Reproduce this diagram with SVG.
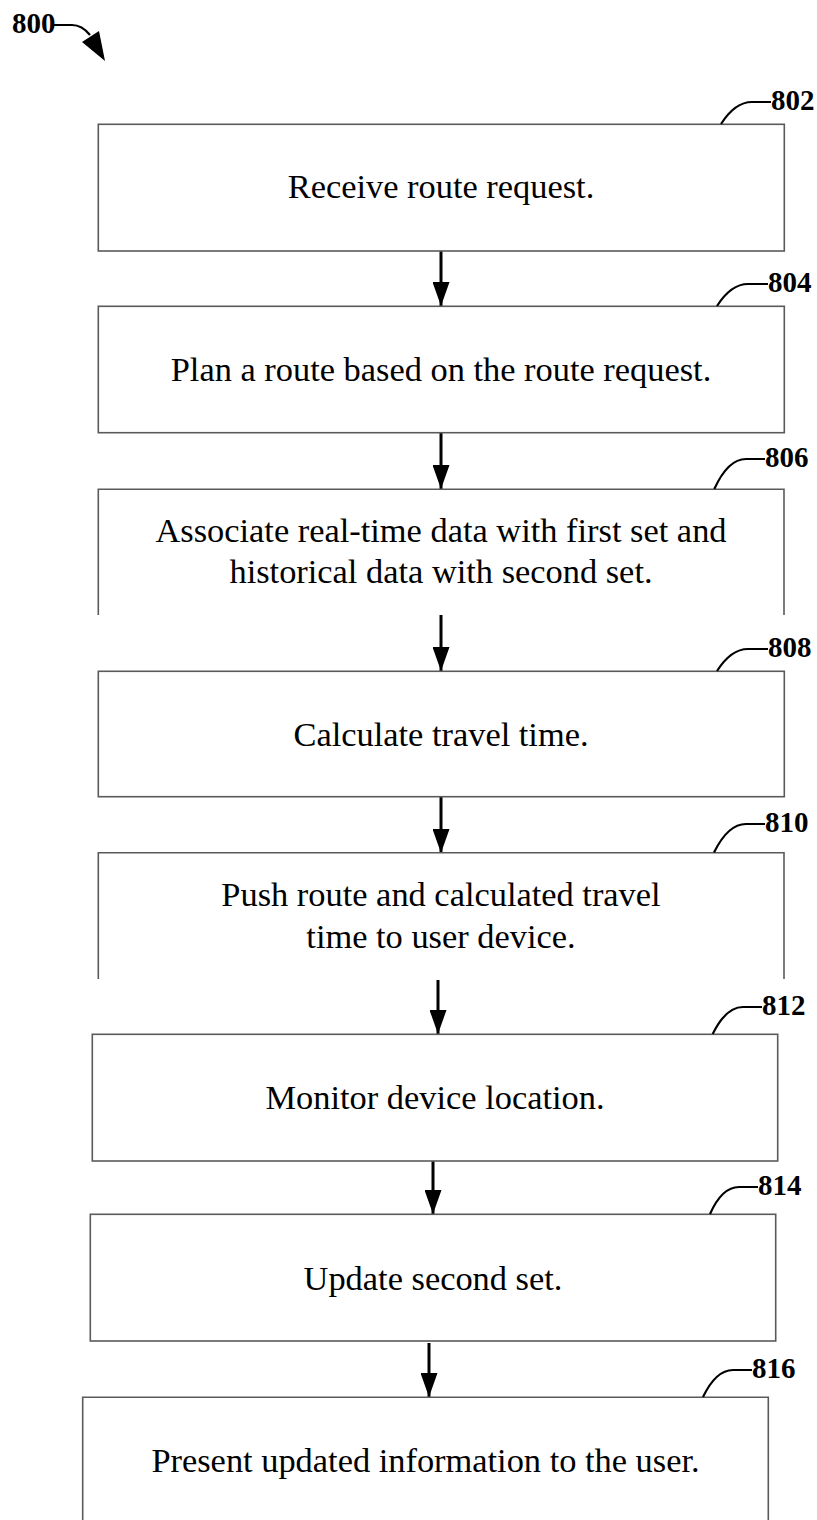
<svg xmlns="http://www.w3.org/2000/svg" width="817" height="1520" viewBox="0 0 817 1520">
<defs>
<style>
.box{fill:none;stroke:#5a5a5a;stroke-width:1.6}
.txt{font-family:"Liberation Serif","Times New Roman",serif;font-size:34.4px;fill:#000;text-anchor:middle}
.lbl{font-family:"Liberation Serif","Times New Roman",serif;font-size:29px;font-weight:bold;fill:#000}
.lead{fill:none;stroke:#000;stroke-width:2.2}
.conn{stroke:#000;stroke-width:3}
</style>
<marker id="ah" viewBox="0 0 24 17" refX="24" refY="8.5" markerWidth="24" markerHeight="17" markerUnits="userSpaceOnUse" orient="auto">
<path d="M0,0 L24,8.5 L0,17 Z" fill="#000"/>
</marker>
</defs>
<rect width="817" height="1520" fill="#fff"/>

<g id="fig-label">
<text class="lbl" x="12" y="33">800</text>
<path class="lead" d="M53,25 L72,25 Q82,25 90,35"/>
<path d="M82,42 L99,31 L105,61 Z" fill="#000"/>
</g>

<g id="connectors">
<line class="conn" x1="441" y1="251" x2="441" y2="306" marker-end="url(#ah)"/>
<line class="conn" x1="441" y1="433" x2="441" y2="489" marker-end="url(#ah)"/>
<line class="conn" x1="441" y1="615" x2="441" y2="671" marker-end="url(#ah)"/>
<line class="conn" x1="441" y1="797" x2="441" y2="853" marker-end="url(#ah)"/>
<line class="conn" x1="438" y1="980" x2="438" y2="1034" marker-end="url(#ah)"/>
<line class="conn" x1="433" y1="1161" x2="433" y2="1214" marker-end="url(#ah)"/>
<line class="conn" x1="429" y1="1343" x2="429" y2="1397" marker-end="url(#ah)"/>
</g>

<g id="n802">
<rect class="box" x="98.3" y="124.3" width="686" height="126.7"/>
<text class="txt" x="441" y="198">Receive route request.</text>
<path class="lead" d="M721,124 Q735,102 752,102 L771,102"/>
<text class="lbl" x="771" y="110">802</text>
</g>

<g id="n804">
<rect class="box" x="98.3" y="306.3" width="686" height="126.4"/>
<text class="txt" x="441" y="381">Plan a route based on the route request.</text>
<path class="lead" d="M717,306 Q731,284 748,284 L768,284"/>
<text class="lbl" x="768" y="292">804</text>
</g>

<g id="n806">
<path class="box" d="M98.3,615 L98.3,489.3 L784,489.3 L784,615"/>
<text class="txt" x="441" y="541.7">Associate real-time data with first set and</text>
<text class="txt" x="441" y="583.3">historical data with second set.</text>
<path class="lead" d="M714.3,489 Q728,459 746,459 L765,459"/>
<text class="lbl" x="765" y="467">806</text>
</g>

<g id="n808">
<rect class="box" x="98.3" y="671.3" width="686" height="125.4"/>
<text class="txt" x="441" y="746">Calculate travel time.</text>
<path class="lead" d="M717,671 Q731,649 748,649 L768,649"/>
<text class="lbl" x="768" y="657">808</text>
</g>

<g id="n810">
<path class="box" d="M98.3,979 L98.3,852.7 L784,852.7 L784,979"/>
<text class="txt" x="441" y="906">Push route and calculated travel</text>
<text class="txt" x="441" y="948">time to user device.</text>
<path class="lead" d="M714,852.5 Q728,824 746,824 L765,824"/>
<text class="lbl" x="765" y="832">810</text>
</g>

<g id="n812">
<rect class="box" x="92.3" y="1034.3" width="685.4" height="126.7"/>
<text class="txt" x="435" y="1109">Monitor device location.</text>
<path class="lead" d="M712.7,1034 Q726,1007 743,1007 L762,1007"/>
<text class="lbl" x="762" y="1015">812</text>
</g>

<g id="n814">
<rect class="box" x="90.3" y="1214.3" width="685.4" height="126.7"/>
<text class="txt" x="433" y="1290">Update second set.</text>
<path class="lead" d="M710,1214 Q722,1187 739,1187 L758,1187"/>
<text class="lbl" x="758" y="1195">814</text>
</g>

<g id="n816">
<path class="box" d="M82.7,1521 L82.7,1397.3 L768.3,1397.3 L768.3,1521"/>
<text class="txt" x="425.5" y="1472">Present updated information to the user.</text>
<path class="lead" d="M703,1397 Q716,1370 733,1370 L752,1370"/>
<text class="lbl" x="752" y="1378">816</text>
</g>
</svg>
